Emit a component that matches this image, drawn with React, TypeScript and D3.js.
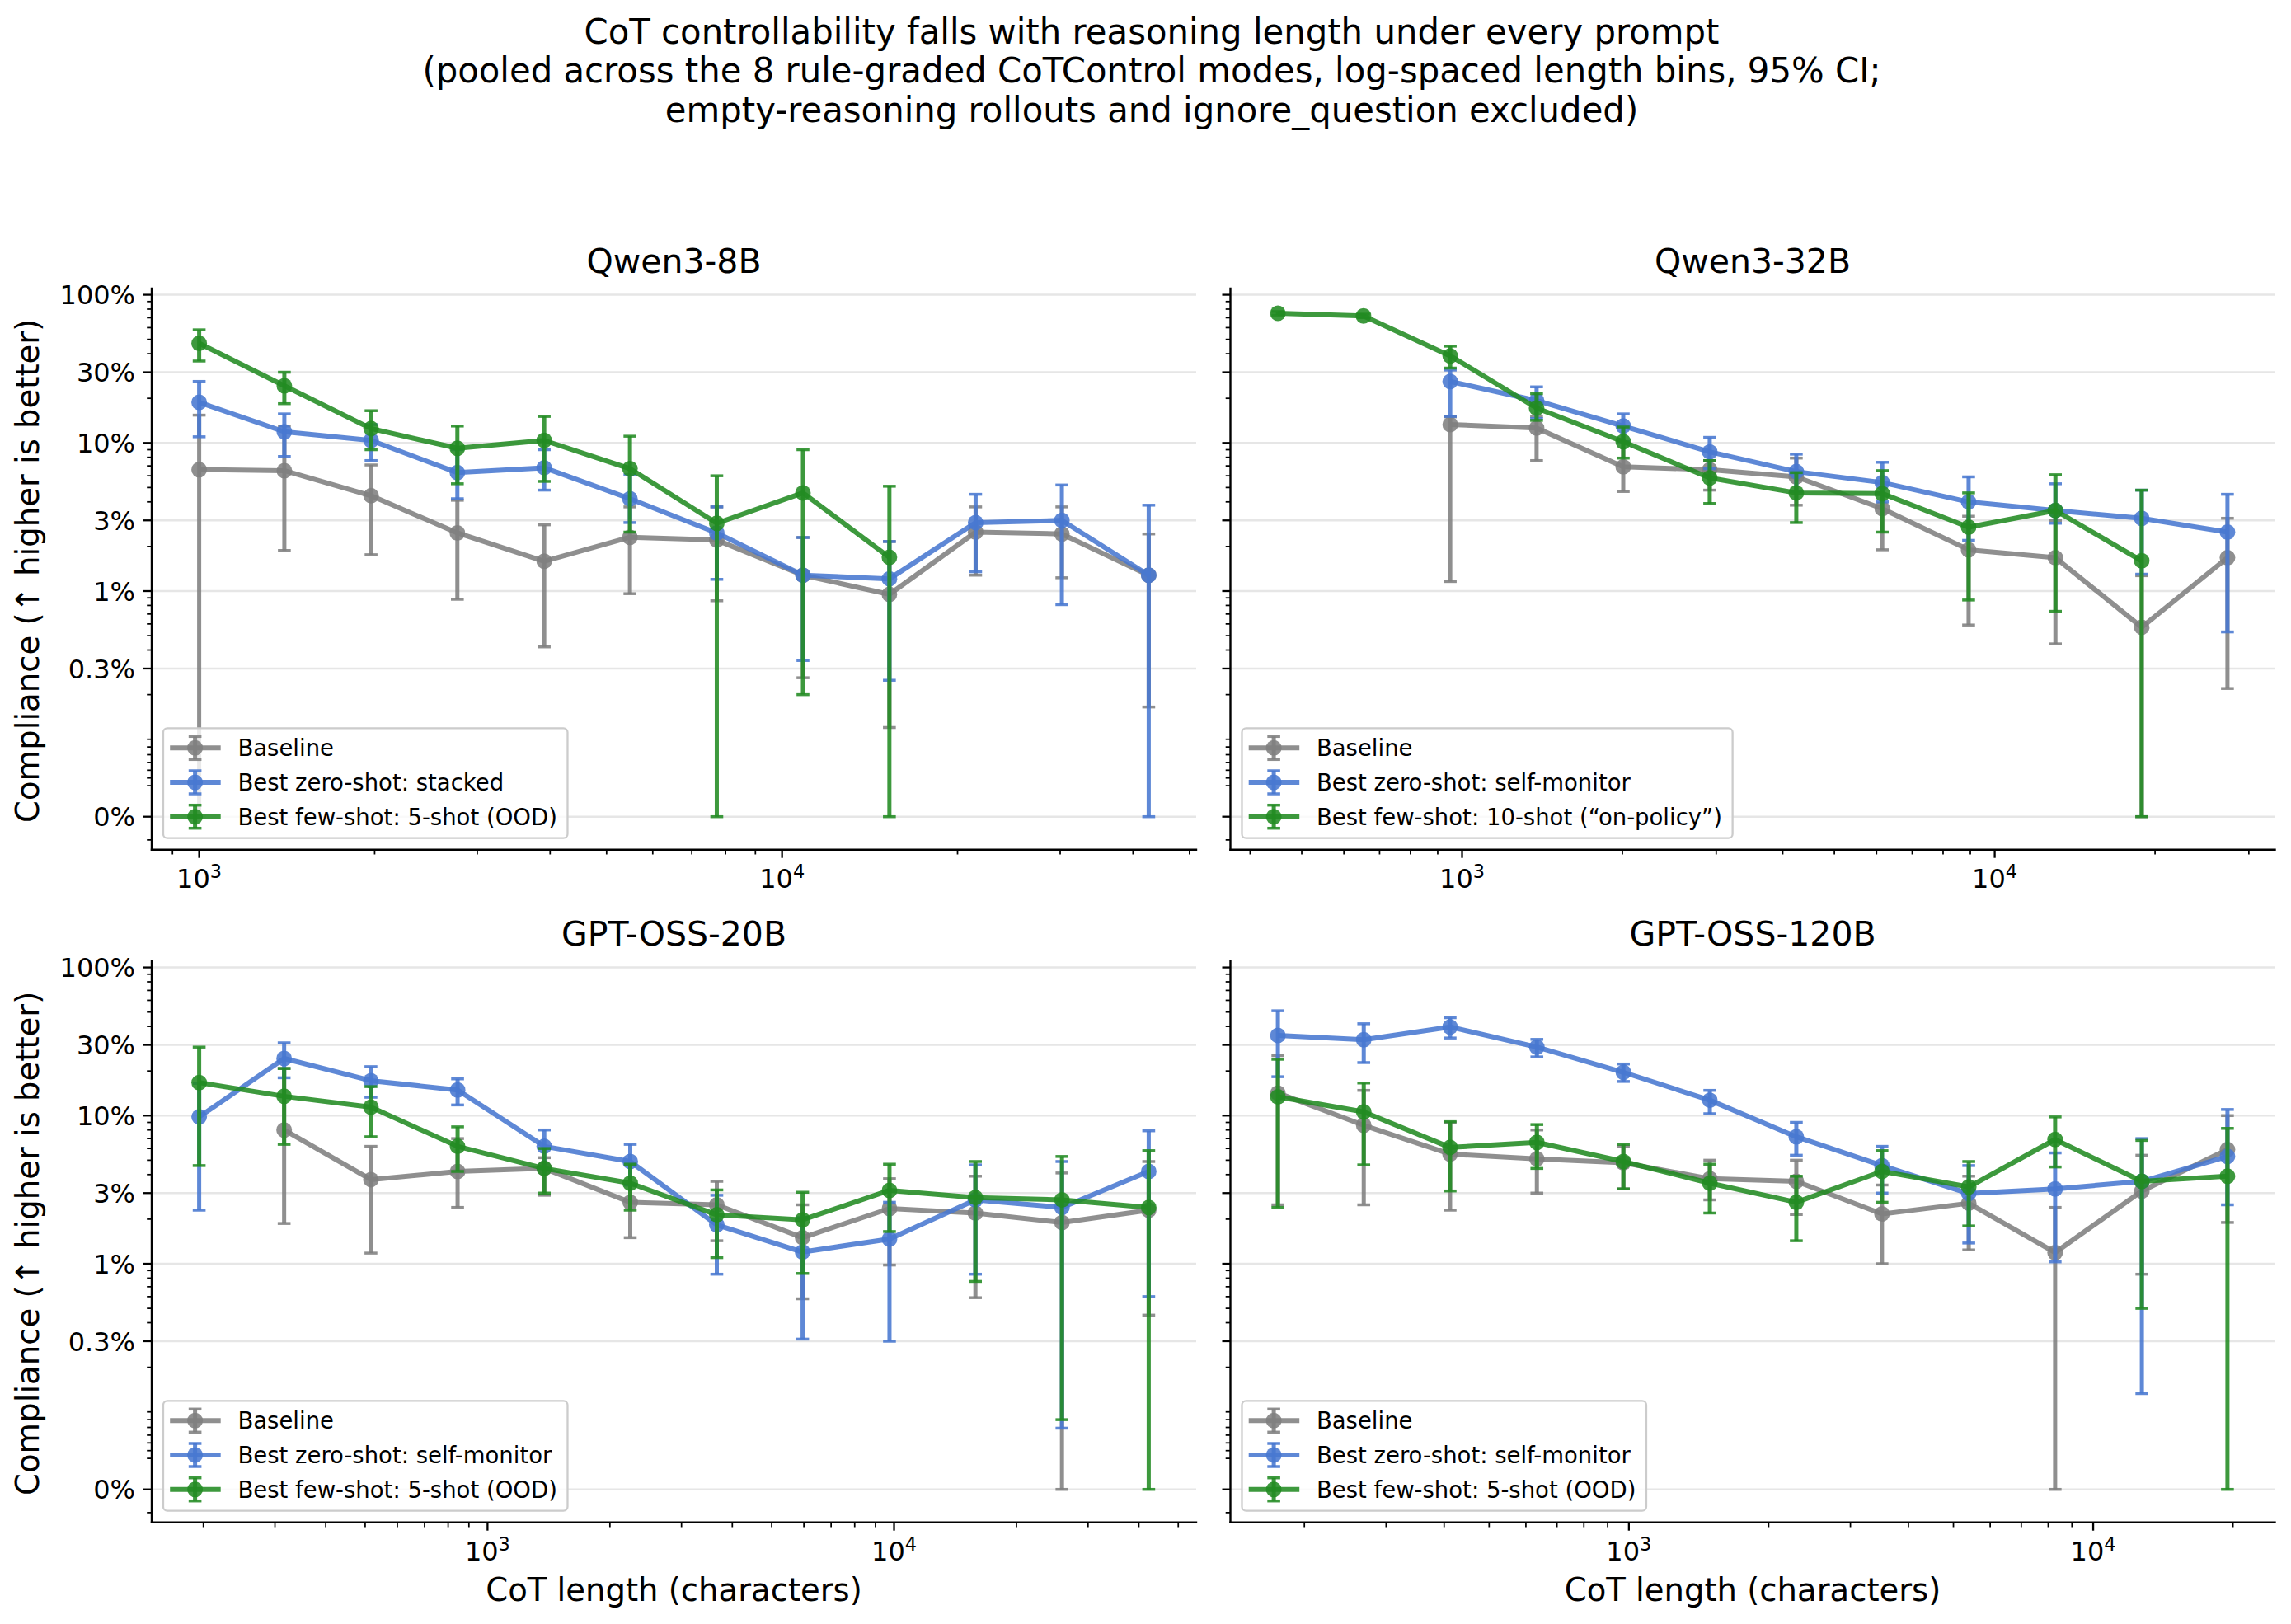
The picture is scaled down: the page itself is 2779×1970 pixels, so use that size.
import * as d3 from 'd3'

const WIDTH = 2779
const HEIGHT = 1970
const FONT = "'DejaVu Sans', 'Liberation Sans', sans-serif"

const GRAY = '#7f7f7f'
const BLUE = '#4878d0'
const GREEN = '#228b22'
const ALPHA = 0.88
const GRID = '#e6e6e6'

const SUPTITLE = [
  'CoT controllability falls with reasoning length under every prompt',
  '(pooled across the 8 rule-graded CoTControl modes, log-spaced length bins, 95% CI;',
  'empty-reasoning rollouts and ignore_question excluded)',
]
const Y_LABEL = 'Compliance (\u2191 higher is better)'
const X_LABEL = 'CoT length (characters)'

// y ticks (fractions) and their labels
const Y_TICKS = [0, 0.003, 0.01, 0.03, 0.1, 0.3, 1]
const Y_TICK_LABELS = ['0%', '0.3%', '1%', '3%', '10%', '30%', '100%']
const Y_MINOR_LOW = [0.001, 0.0009, 0.0008, 0.0007, 0.0006, 0.0005, 0.0004, -0.0003]

// ---- Qwen3-8B (values in %) ----
const Q8_X = [1000, 1400, 1972, 2773, 3908, 5483, 7727, 10860, 15280, 21480, 30200, 42560]
const Q8_BASE = [6.6, 6.5, 4.4, 2.47, 1.59, 2.31, 2.21, 1.28, 0.95, 2.5, 2.43, 1.28]
const Q8_BASE_LO = [0, 1.88, 1.76, 0.88, 0.42, 0.96, 0.86, 0.26, 0.12, 1.28, 1.23, 0.165]
const Q8_BASE_HI = [15.4, 13, 7.1, 4.1, 2.8, 3.7, 3.7, 2.3, 2.16, 3.7, 3.7, 2.43]
const Q8_ZERO = [18.8, 11.9, 10.4, 6.3, 6.8, 4.2, 2.47, 1.28, 1.21, 2.9, 3.0, 1.28]
const Q8_ZERO_LO = [11.0, 8.1, 7.6, 4.2, 4.8, 2.9, 1.2, 0.34, 0.25, 1.35, 0.81, 0]
const Q8_ZERO_HI = [26, 15.7, 13.3, 9.0, 9.0, 6.1, 3.7, 2.3, 2.16, 4.5, 5.2, 3.8]
const Q8_FEW = [47, 24.3, 12.5, 9.2, 10.4, 6.7, 2.87, 4.6, 1.69, null, null, null]
const Q8_FEW_LO = [35.7, 18.4, 9.0, 5.3, 5.5, 2.5, 0, 0.2, 0, null, null, null]
const Q8_FEW_HI = [58, 30, 16.5, 13, 15.1, 11.1, 6.0, 9.0, 5.1, null, null, null]

// ---- Qwen3-32B ----
const Q32_X = [451, 653, 950, 1380, 2007, 2917, 4241, 6150, 8933, 13000, 18880, 27350]
const Q32_BASE = [null, null, 13.3, 12.6, 6.9, 6.6, 5.9, 3.6, 1.9, 1.68, 0.57, 1.68]
const Q32_BASE_LO = [null, null, 1.16, 7.6, 4.7, 4.8, 3.8, 1.9, 0.59, 0.44, 0, 0.22]
const Q32_BASE_HI = [null, null, 15, 15.1, 10.2, 7.6, 7.9, 5.3, 3.2, 3.0, 1.27, 3.1]
const Q32_ZERO = [null, null, 26, 19.3, 13.0, 8.7, 6.4, 5.4, 4.0, 3.5, 3.1, 2.5]
const Q32_ZERO_LO = [null, null, 15.1, 14.6, 10.2, 6.7, 4.7, 4.0, 2.2, 2.87, 1.3, 0.53]
const Q32_ZERO_HI = [null, null, 31, 23.9, 15.7, 10.9, 8.4, 7.4, 5.9, 5.3, 4.8, 4.5]
const Q32_FEW = [75, 72, 38.7, 17.2, 10.2, 5.8, 4.6, 4.55, 2.7, 3.5, 1.6, null]
const Q32_FEW_LO = [73, 70, 32, 14.2, 7.9, 3.9, 2.9, 2.5, 0.87, 0.73, 0, null]
const Q32_FEW_HI = [77, 74, 45, 21.5, 12.8, 7.6, 6.3, 6.5, 4.6, 6.1, 4.8, null]

// ---- GPT-OSS-20B ----
const G20_X = [195.3, 316, 516.6, 844, 1379, 2244, 3664, 5957, 9743, 15850, 25880, 42300]
const G20_BASE = [null, 8.0, 3.7, 4.2, 4.4, 2.6, 2.5, 1.5, 2.36, 2.2, 1.9, 2.3]
const G20_BASE_LO = [null, 1.87, 1.18, 2.4, 2.9, 1.5, 1.43, 0.58, 0.98, 0.59, 0, 0.45]
const G20_BASE_HI = [null, 20.8, 6.2, 7.0, 5.2, 3.4, 3.6, 2.5, 3.75, 3.9, 4.1, 4.9]
const G20_ZERO = [9.8, 24.3, 17.2, 14.9, 6.2, 4.9, 1.83, 1.2, 1.47, 2.7, 2.4, 4.2]
const G20_ZERO_LO = [2.3, 18, 13.3, 11.8, 4.4, 3.4, 0.85, 0.31, 0.3, 0.85, 0.079, 0.6]
const G20_ZERO_HI = [16.5, 31, 21.4, 17.7, 8.0, 6.4, 2.9, 2.05, 2.6, 4.65, 4.9, 7.9]
const G20_FEW = [16.7, 13.5, 11.4, 6.2, 4.4, 3.5, 2.14, 1.98, 3.13, 2.8, 2.7, 2.4]
const G20_FEW_LO = [4.6, 6.4, 7.2, 4.2, 3.0, 2.3, 1.1, 0.86, 1.65, 0.76, 0.09, 0]
const G20_FEW_HI = [29, 20.8, 15.7, 8.4, 6.0, 4.7, 3.15, 3.04, 4.7, 4.9, 5.3, 5.8]

// ---- GPT-OSS-120B ----
const G120_X = [175.4, 268.5, 412, 633.6, 973, 1494, 2294, 3508, 5395, 8279, 12730, 19460]
const G120_BASE = [14.2, 8.6, 5.5, 5.1, 4.8, 3.75, 3.6, 2.17, 2.56, 1.19, 3.1, 5.9]
const G120_BASE_LO = [2.5, 2.5, 2.3, 3.0, 3.2, 2.7, 2.15, 1.0, 1.24, 0, 0.85, 1.9]
const G120_BASE_HI = [25.4, 14.8, 9.0, 8.0, 6.2, 5.0, 5.0, 3.4, 3.9, 2.4, 5.4, 10]
const G120_ZERO = [34.8, 32.5, 39.7, 29, 19.6, 12.7, 7.2, 4.6, 2.98, 3.2, 3.6, 5.3]
const G120_ZERO_LO = [18.3, 22.8, 33.4, 24.9, 17, 10.3, 5.4, 3.0, 1.38, 1.03, 0.133, 2.5]
const G120_ZERO_HI = [51, 41.7, 45.8, 32.7, 22.3, 14.8, 9.0, 6.2, 4.6, 5.6, 7.0, 11]
const G120_FEW = [13.4, 10.6, 6.1, 6.6, 4.9, 3.5, 2.6, 4.2, 3.3, 6.9, 3.6, 3.9]
const G120_FEW_LO = [2.4, 4.65, 3.1, 4.4, 3.2, 2.2, 1.43, 2.6, 1.8, 4.5, 0.5, 0]
const G120_FEW_HI = [24, 16.6, 9.1, 8.7, 6.4, 4.7, 3.9, 5.8, 4.9, 9.8, 6.8, 8.2]

type Val = number | null
interface Series { label: string; color: string; v: Val[]; lo: Val[]; hi: Val[] }
interface Panel { title: string; x: number[]; col: number; row: number; series: Series[] }

const BASE_LABEL = 'Baseline'
const PANELS: Panel[] = [
  {
    title: 'Qwen3-8B', x: Q8_X, col: 0, row: 0,
    series: [
      { label: BASE_LABEL, color: GRAY, v: Q8_BASE, lo: Q8_BASE_LO, hi: Q8_BASE_HI },
      { label: 'Best zero-shot: stacked', color: BLUE, v: Q8_ZERO, lo: Q8_ZERO_LO, hi: Q8_ZERO_HI },
      { label: 'Best few-shot: 5-shot (OOD)', color: GREEN, v: Q8_FEW, lo: Q8_FEW_LO, hi: Q8_FEW_HI },
    ],
  },
  {
    title: 'Qwen3-32B', x: Q32_X, col: 1, row: 0,
    series: [
      { label: BASE_LABEL, color: GRAY, v: Q32_BASE, lo: Q32_BASE_LO, hi: Q32_BASE_HI },
      { label: 'Best zero-shot: self-monitor', color: BLUE, v: Q32_ZERO, lo: Q32_ZERO_LO, hi: Q32_ZERO_HI },
      { label: 'Best few-shot: 10-shot (\u201con-policy\u201d)', color: GREEN, v: Q32_FEW, lo: Q32_FEW_LO, hi: Q32_FEW_HI },
    ],
  },
  {
    title: 'GPT-OSS-20B', x: G20_X, col: 0, row: 1,
    series: [
      { label: BASE_LABEL, color: GRAY, v: G20_BASE, lo: G20_BASE_LO, hi: G20_BASE_HI },
      { label: 'Best zero-shot: self-monitor', color: BLUE, v: G20_ZERO, lo: G20_ZERO_LO, hi: G20_ZERO_HI },
      { label: 'Best few-shot: 5-shot (OOD)', color: GREEN, v: G20_FEW, lo: G20_FEW_LO, hi: G20_FEW_HI },
    ],
  },
  {
    title: 'GPT-OSS-120B', x: G120_X, col: 1, row: 1,
    series: [
      { label: BASE_LABEL, color: GRAY, v: G120_BASE, lo: G120_BASE_LO, hi: G120_BASE_HI },
      { label: 'Best zero-shot: self-monitor', color: BLUE, v: G120_ZERO, lo: G120_ZERO_LO, hi: G120_ZERO_HI },
      { label: 'Best few-shot: 5-shot (OOD)', color: GREEN, v: G120_FEW, lo: G120_FEW_LO, hi: G120_FEW_HI },
    ],
  },
]

// layout
const COLS = [{ x0: 184, x1: 1451 }, { x0: 1492.5, x1: 2759.5 }]
const ROWS = [{ top: 350, bottom: 1030.7 }, { top: 1166, bottom: 1846.7 }]
const Y_DOMAIN: [number, number] = [-0.2226, 3.565]

const TICK_FS = 32
const LEGEND_FS = 27.5
const TITLE_FS = 41
const SUPTITLE_FS = 41.8
const LABEL_FS = 38.6

const LW = 6
const ELW = 5
const CAPW = 3.5
const CAP = 7.8
const MR = 9.5

// symlog-like transform: linear under 0.1%, log10 above (one unit per decade, 0.3% -> 1)
const LIN_T = 0.001
const REF = 0.003
function symlog(v: number) {
  return v >= LIN_T ? 1 + Math.log10(v / REF) : (v / LIN_T) * (1 + Math.log10(LIN_T / REF))
}

let measureCtx: CanvasRenderingContext2D | null = null
function textWidth(s: string, size: number) {
  if (!measureCtx) measureCtx = document.createElement('canvas').getContext('2d')
  if (!measureCtx) return s.length * size * 0.6
  measureCtx.font = `${size}px 'DejaVu Sans'`
  return measureCtx.measureText(s).width
}

function ErrBar({ px, yl, yh, color }: { px: number; yl: number; yh: number; color: string }) {
  return (
    <g stroke={color} strokeOpacity={ALPHA}>
      <line x1={px} x2={px} y1={yl} y2={yh} strokeWidth={ELW} />
      <line x1={px - CAP} x2={px + CAP} y1={yl} y2={yl} strokeWidth={CAPW} />
      <line x1={px - CAP} x2={px + CAP} y1={yh} y2={yh} strokeWidth={CAPW} />
    </g>
  )
}

function PanelView({ p }: { p: Panel }) {
  const { x0, x1 } = COLS[p.col]
  const { top, bottom } = ROWS[p.row]

  const [l0, l1] = d3.extent(p.x.map(Math.log10)) as [number, number]
  const pad = (l1 - l0) * 0.05
  const x = d3.scaleLog().domain([10 ** (l0 - pad), 10 ** (l1 + pad)]).range([x0, x1])
  const yLin = d3.scaleLinear().domain(Y_DOMAIN).range([bottom, top])
  const y = (v: number) => yLin(symlog(v))
  const inY = (v: number) => symlog(v) >= Y_DOMAIN[0] && symlog(v) <= Y_DOMAIN[1]

  const yMinor: number[] = [...Y_MINOR_LOW]
  for (const k of [-3, -2, -1]) {
    for (let m = 2; m <= 9; m++) {
      const v = +(m * 10 ** k).toPrecision(3)
      if (!Y_TICKS.includes(v)) yMinor.push(v)
    }
  }

  const [d0, d1] = x.domain()
  const xMajor: number[] = []
  const xMinor: number[] = []
  for (let k = Math.floor(Math.log10(d0)); k <= Math.ceil(Math.log10(d1)); k++) {
    for (let m = 1; m <= 9; m++) {
      const v = m * 10 ** k
      if (v < d0 || v > d1) continue
      if (m === 1) xMajor.push(v)
      else xMinor.push(v)
    }
  }

  const idx = d3.range(p.x.length)
  const cx = (x0 + x1) / 2

  // legend geometry
  const legendW = 90.4 + d3.max(p.series, (s) => textWidth(s.label, LEGEND_FS))! + 12.6
  const legendH = 133.4
  const lgX = x0 + 14
  const lgY = bottom - 14 - legendH

  return (
    <g>
      {/* grid */}
      {Y_TICKS.map((t) => (
        <line key={`g${t}`} x1={x0} x2={x1} y1={y(t)} y2={y(t)} stroke={GRID} strokeWidth={2.6} />
      ))}

      {/* series */}
      {p.series.map((s) => {
        const line = d3
          .line<number>()
          .defined((i) => s.v[i] != null)
          .x((i) => x(p.x[i]))
          .y((i) => y((s.v[i] as number) / 100))
        return (
          <g key={s.label + s.color}>
            {idx
              .filter((i) => s.v[i] != null && s.lo[i] != null && s.hi[i] != null)
              .map((i) => (
                <ErrBar
                  key={i}
                  px={x(p.x[i])}
                  yl={y((s.lo[i] as number) / 100)}
                  yh={y((s.hi[i] as number) / 100)}
                  color={s.color}
                />
              ))}
            <path d={line(idx) ?? ''} fill="none" stroke={s.color} strokeOpacity={ALPHA} strokeWidth={LW} strokeLinejoin="round" />
            {idx
              .filter((i) => s.v[i] != null)
              .map((i) => (
                <circle key={`m${i}`} cx={x(p.x[i])} cy={y((s.v[i] as number) / 100)} r={MR} fill={s.color} fillOpacity={ALPHA} />
              ))}
          </g>
        )
      })}

      {/* spines */}
      <line x1={x0} x2={x0} y1={top} y2={bottom} stroke="#000" strokeWidth={2.4} strokeLinecap="square" />
      <line x1={x0} x2={x1} y1={bottom} y2={bottom} stroke="#000" strokeWidth={2.4} strokeLinecap="square" />

      {/* y ticks */}
      {Y_TICKS.map((t) => (
        <line key={`yt${t}`} x1={x0 - 10} x2={x0} y1={y(t)} y2={y(t)} stroke="#000" strokeWidth={2.3} />
      ))}
      {yMinor.filter(inY).map((t) => (
        <line key={`ym${t}`} x1={x0 - 5.8} x2={x0} y1={y(t)} y2={y(t)} stroke="#000" strokeWidth={1.75} />
      ))}
      {p.col === 0 &&
        Y_TICKS.map((t, i) => (
          <text key={`yl${t}`} x={x0 - 20} y={y(t) + 11.6} textAnchor="end" fontSize={TICK_FS}>
            {Y_TICK_LABELS[i]}
          </text>
        ))}

      {/* x ticks */}
      {xMajor.map((t) => (
        <g key={`xt${t}`}>
          <line x1={x(t)} x2={x(t)} y1={bottom} y2={bottom + 10} stroke="#000" strokeWidth={2.3} />
          <text x={x(t)} y={bottom + 46} textAnchor="middle" fontSize={TICK_FS}>
            10
            <tspan dy={-11.8} fontSize={TICK_FS * 0.7}>
              {Math.round(Math.log10(t))}
            </tspan>
          </text>
        </g>
      ))}
      {xMinor.map((t) => (
        <line key={`xm${t}`} x1={x(t)} x2={x(t)} y1={bottom} y2={bottom + 5.8} stroke="#000" strokeWidth={1.75} />
      ))}

      {/* title */}
      <text x={cx} y={top - 19} textAnchor="middle" fontSize={TITLE_FS}>
        {p.title}
      </text>

      {/* axis labels */}
      {p.row === 1 && (
        <text x={cx} y={bottom + 95} textAnchor="middle" fontSize={LABEL_FS}>
          {X_LABEL}
        </text>
      )}
      {p.col === 0 && (
        <text transform={`translate(47,${(top + bottom) / 2 + 2}) rotate(-90)`} textAnchor="middle" fontSize={LABEL_FS}>
          {Y_LABEL}
        </text>
      )}

      {/* legend */}
      <g>
        <rect x={lgX} y={lgY} width={legendW} height={legendH} rx={5} fill="#fff" fillOpacity={0.8} stroke="#cccccc" strokeWidth={2.3} />
        {p.series.map((s, i) => {
          const ry = lgY + 24 + i * 41.7
          const hx = lgX + 38.6
          return (
            <g key={`lg${i}`}>
              <ErrBar px={hx} yl={ry + 14} yh={ry - 14} color={s.color} />
              <line x1={lgX + 8.2} x2={lgX + 69.7} y1={ry} y2={ry} stroke={s.color} strokeOpacity={ALPHA} strokeWidth={LW} />
              <circle cx={hx} cy={ry} r={MR} fill={s.color} fillOpacity={ALPHA} />
              <text x={lgX + 90.4} y={ry + 10} fontSize={LEGEND_FS}>
                {s.label}
              </text>
            </g>
          )
        })}
      </g>
    </g>
  )
}

export default function App() {
  return (
    <svg
      width={WIDTH}
      height={HEIGHT}
      viewBox={`0 0 ${WIDTH} ${HEIGHT}`}
      style={{ position: 'absolute', left: 0, top: 0, background: '#fff' }}
      fontFamily={FONT}
    >
      <rect width={WIDTH} height={HEIGHT} fill="#fff" />
      {SUPTITLE.map((s, i) => (
        <text key={i} x={1397} y={52.7 + i * 47.5} textAnchor="middle" fontSize={SUPTITLE_FS}>
          {s}
        </text>
      ))}
      {PANELS.map((p) => (
        <PanelView key={p.title} p={p} />
      ))}
    </svg>
  )
}
